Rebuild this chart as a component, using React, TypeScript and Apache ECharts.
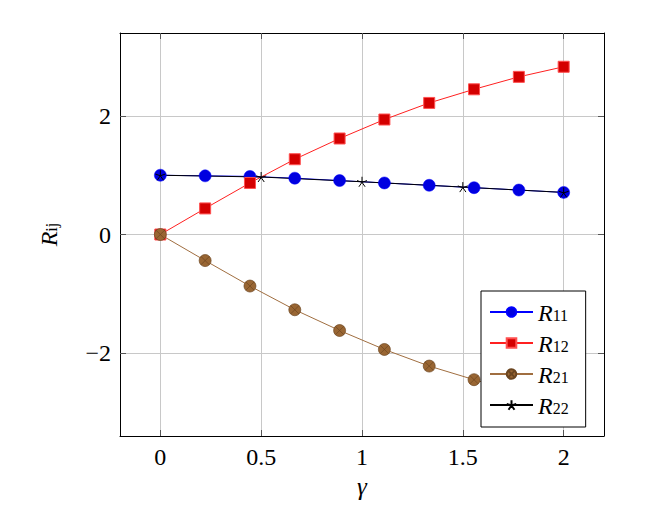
import React, { useEffect, useRef } from "react";
import * as echarts from "echarts";

const gammaA = [0, 0.2222, 0.4444, 0.6667, 0.8889, 1.1111, 1.3333, 1.5556, 1.7778, 2];
const gammaB = [0, 0.5, 1, 1.5, 2];
const r11 = [1.0, 0.99, 0.98, 0.95, 0.91, 0.87, 0.83, 0.79, 0.75, 0.71];
const r12 = [0, 0.44, 0.87, 1.27, 1.62, 1.94, 2.22, 2.45, 2.66, 2.83];
const r21 = [0, -0.44, -0.87, -1.27, -1.62, -1.94, -2.22, -2.45, -2.66, -2.83];
const r22 = [1.0, 0.97, 0.89, 0.8, 0.71];
const xTicks = [0, 0.5, 1, 1.5, 2];
const yTicks = [-2, 0, 2];
const seriesNames = ["R11", "R12", "R21", "R22"];

const FONT = "Liberation Serif";
const STAR =
  "path://M0,-10 L0,0 M0,0 L9.51,-3.09 M0,0 L5.88,8.09 M0,0 L-5.88,8.09 M0,0 L-9.51,-3.09";
const OTIMES =
  "path://M10,0 A10,10 0 1,1 -10,0 A10,10 0 1,1 10,0 Z M-7.07,-7.07 L7.07,7.07 M-7.07,7.07 L7.07,-7.07";

const fmt = (v: number) => (v < 0 ? "\u2212" + Math.abs(v) : String(v));
const rich = {
  i: { fontFamily: FONT, fontStyle: "italic", fontSize: 24, lineHeight: 22, verticalAlign: "top", color: "#000" },
  s: { fontFamily: FONT, fontSize: 16, lineHeight: 11, verticalAlign: "bottom", color: "#000" },
};

const pairs = (xs: number[], ys: number[]) => xs.map((x, k) => [x, ys[k]]);

export default function App() {
  const ref = useRef<HTMLDivElement>(null);
  useEffect(() => {
    const chart = echarts.init(ref.current!, null, { renderer: "svg" });
    const tickStyle = { color: "#555", width: 1 };
    const baseX = {
      type: "value",
      min: -0.2,
      max: 2.2,
      axisLine: { show: true, onZero: false, lineStyle: { color: "#000", width: 1 } },
      axisTick: { show: true, inside: true, length: 6, customValues: xTicks, lineStyle: tickStyle },
    };
    const baseY = {
      type: "value",
      min: -3.4,
      max: 3.4,
      axisLine: { show: true, onZero: false, lineStyle: { color: "#000", width: 1 } },
      axisTick: { show: true, inside: true, length: 6, customValues: yTicks, lineStyle: tickStyle },
    };
    chart.setOption({
      animation: false,
      backgroundColor: "#fff",
      grid: { left: 120, right: 63, top: 33, bottom: 85, outerBoundsMode: "none", containLabel: false },
      xAxis: [
        {
          ...baseX,
          position: "bottom",
          name: "γ",
          nameLocation: "middle",
          nameGap: 33,
          nameTextStyle: { fontFamily: FONT, fontStyle: "italic", fontSize: 25, color: "#000" },
          axisLabel: { show: true, customValues: xTicks, formatter: fmt, fontFamily: FONT, fontSize: 24, color: "#000", margin: 9 },
          splitLine: { show: true, lineStyle: { color: "#c8c8c8", width: 1 } },
        },
        {
          ...baseX,
          position: "top",
          axisLabel: { show: false },
          splitLine: { show: false },
        },
      ],
      yAxis: [
        {
          ...baseY,
          position: "left",
          name: "{i|R}{s|ij}",
          nameLocation: "middle",
          nameGap: 61,
          nameTextStyle: { rich },
          axisLabel: { show: true, customValues: yTicks, formatter: fmt, fontFamily: FONT, fontSize: 24, color: "#000", margin: 9 },
          splitLine: { show: true, lineStyle: { color: "#c8c8c8", width: 1 } },
        },
        {
          ...baseY,
          position: "right",
          axisLabel: { show: false },
          splitLine: { show: false },
        },
      ],
      legend: {
        orient: "vertical",
        left: 481,
        top: 291,
        itemWidth: 43,
        itemHeight: 12,
        itemGap: 7,
        padding: [10, 17, 9, 8],
        borderColor: "#000",
        borderWidth: 1,
        borderRadius: 0,
        backgroundColor: "#fff",
        data: seriesNames,
        formatter: (n: string) => `{i|R}{s|${n.slice(1)}}`,
        textStyle: { rich },
      },
      series: [
        {
          name: seriesNames[0],
          type: "line",
          data: pairs(gammaA, r11),
          symbol: "circle",
          symbolSize: 12,
          lineStyle: { color: "#0000ff", width: 1 },
          itemStyle: { color: "#0000e0", borderColor: "#0000ff", borderWidth: 0.5 },
        },
        {
          name: seriesNames[1],
          type: "line",
          data: pairs(gammaA, r12),
          symbol: "rect",
          symbolSize: 11,
          lineStyle: { color: "#ff2020", width: 1 },
          itemStyle: { color: "#d40000", borderColor: "#ff5050", borderWidth: 1 },
        },
        {
          name: seriesNames[2],
          type: "line",
          data: pairs(gammaA, r21),
          symbol: OTIMES,
          symbolSize: 12,
          lineStyle: { color: "#a06e40", width: 1 },
          itemStyle: { color: "#996633", borderColor: "#6b4520", borderWidth: 0.7 },
        },
        {
          name: seriesNames[3],
          type: "line",
          data: pairs(gammaB, r22),
          symbol: STAR,
          symbolSize: 10,
          lineStyle: { color: "#000", width: 1 },
          itemStyle: { color: "rgba(0,0,0,0)", borderColor: "#000", borderWidth: 1 },
        },
      ],
    });
    return () => chart.dispose();
  }, []);
  return (
    <div
      ref={ref}
      style={{ position: "absolute", left: 0, top: 0, width: 667, height: 521, background: "#fff" }}
    />
  );
}
